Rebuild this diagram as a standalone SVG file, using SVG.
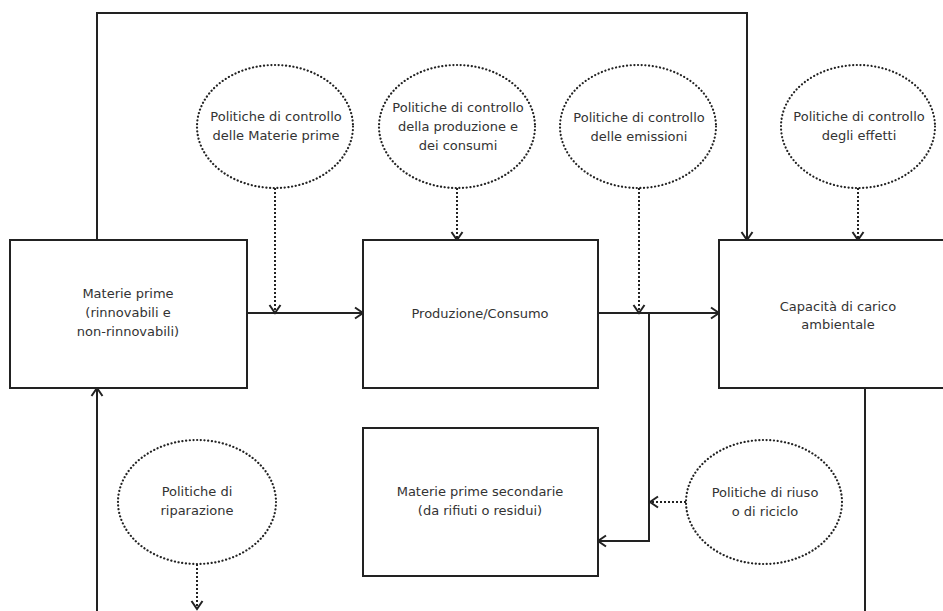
<svg xmlns="http://www.w3.org/2000/svg" width="943" height="611" viewBox="0 0 943 611">
<style>
.box{fill:#fff;stroke:#222;stroke-width:2}
.pol{fill:#fff;stroke:#222;stroke-width:2.2;stroke-dasharray:0.1 3.6;stroke-linecap:round}
.ln{fill:none;stroke:#222;stroke-width:2}
.dl{fill:none;stroke:#222;stroke-width:2;stroke-dasharray:2 2}
text{font-family:"DejaVu Sans",Verdana,sans-serif;font-size:13px;fill:#333;text-anchor:middle}
</style>
<defs>
<marker id="arr" viewBox="-10 -7 12 14" markerWidth="12" markerHeight="14" refX="0" refY="0" orient="auto" markerUnits="userSpaceOnUse">
<path d="M-8,-5.5 L0,0 L-8,5.5" fill="none" stroke="#222" stroke-width="2"/>
</marker>
</defs>
<rect width="943" height="611" fill="#fff"/>
<g id="connectors">
<path class="ln" d="M97,240 V13 H747 V240" marker-end="url(#arr)"/>
<path class="ln" d="M247,313 H363" marker-end="url(#arr)"/>
<path class="ln" d="M598,313 H719" marker-end="url(#arr)"/>
<path class="ln" d="M649,313 V541 H598" marker-end="url(#arr)"/>
<path class="ln" d="M865,388 V611"/>
<path class="ln" d="M97,611 V388" marker-end="url(#arr)"/>
<path class="dl" d="M275,188 V313" marker-end="url(#arr)"/>
<path class="dl" d="M457,188 V240" marker-end="url(#arr)"/>
<path class="dl" d="M639,188 V313" marker-end="url(#arr)"/>
<path class="dl" d="M858,188 V240" marker-end="url(#arr)"/>
<path class="dl" d="M686,502 H650" marker-end="url(#arr)"/>
<path class="dl" d="M197,564 V609" marker-end="url(#arr)"/>
</g>
<g id="materie-prime">
<rect class="box" x="10" y="240" width="237" height="148"/>
<text x="128" y="298">Materie prime</text>
<text x="128" y="317">(rinnovabili e</text>
<text x="128" y="336">non-rinnovabili)</text>
</g>
<g id="produzione">
<rect class="box" x="363" y="240" width="235" height="148"/>
<text x="480" y="318">Produzione/Consumo</text>
</g>
<g id="capacita">
<rect class="box" x="719" y="240" width="237" height="148"/>
<text x="838" y="311">Capacità di carico</text>
<text x="838" y="329">ambientale</text>
</g>
<g id="secondarie">
<rect class="box" x="363" y="428" width="235" height="148"/>
<text x="480" y="496">Materie prime secondarie</text>
<text x="480" y="515">(da rifiuti o residui)</text>
</g>
<g id="pol-materie">
<ellipse class="pol" cx="275" cy="126.5" rx="78" ry="61.5"/>
<text x="276" y="121">Politiche di controllo</text>
<text x="276" y="140">delle Materie prime</text>
</g>
<g id="pol-produzione">
<ellipse class="pol" cx="457" cy="126.5" rx="78" ry="61.5"/>
<text x="458" y="112">Politiche di controllo</text>
<text x="458" y="131">della produzione e</text>
<text x="458" y="150">dei consumi</text>
</g>
<g id="pol-emissioni">
<ellipse class="pol" cx="638" cy="126.5" rx="78" ry="61.5"/>
<text x="639" y="122">Politiche di controllo</text>
<text x="639" y="141">delle emissioni</text>
</g>
<g id="pol-effetti">
<ellipse class="pol" cx="858" cy="126.5" rx="77" ry="61.5"/>
<text x="859" y="121">Politiche di controllo</text>
<text x="859" y="140">degli effetti</text>
</g>
<g id="pol-riuso">
<ellipse class="pol" cx="764" cy="502" rx="78" ry="62"/>
<text x="765" y="497">Politiche di riuso</text>
<text x="765" y="516">o di riciclo</text>
</g>
<g id="pol-riparazione">
<ellipse class="pol" cx="197" cy="502" rx="79" ry="62"/>
<text x="197" y="496">Politiche di</text>
<text x="197" y="515">riparazione</text>
</g>
</svg>
